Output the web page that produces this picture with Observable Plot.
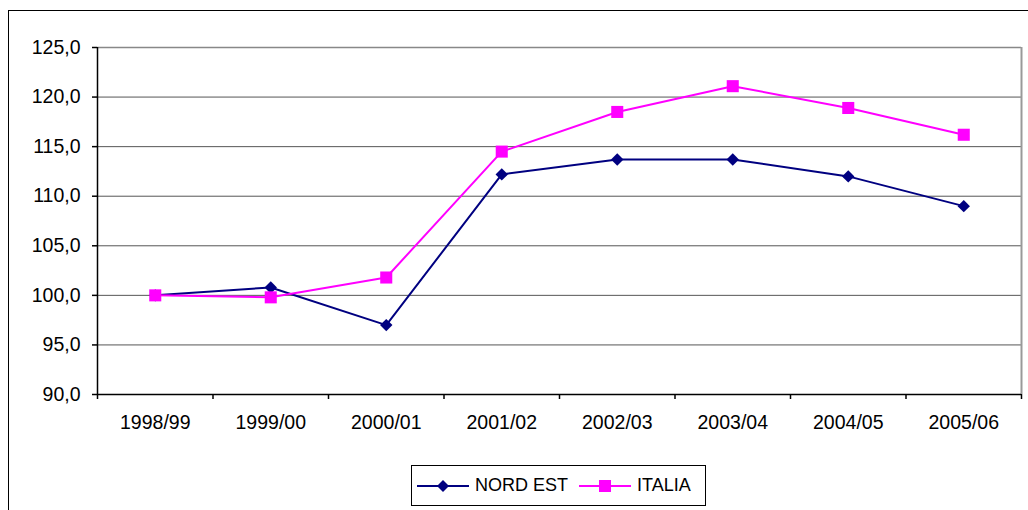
<!DOCTYPE html>
<html>
<head>
<meta charset="utf-8">
<script src="https://cdn.jsdelivr.net/npm/d3@7"></script>
<script src="https://cdn.jsdelivr.net/npm/@observablehq/plot@0.6"></script>
<style>
  html, body { margin: 0; padding: 0; background: #fff; overflow: hidden; width: 1028px; height: 510px; }
  #frame { position: absolute; left: 8px; top: 10px; width: 1100px; height: 600px; border: 1px solid #000; box-sizing: border-box; }
  #chart { position: absolute; left: 0; top: 0; }
  #legend { position: absolute; left: 411px; top: 465px; width: 295px; height: 41px; border: 1px solid #000; box-sizing: border-box; background: #fff;
            font-family: "Liberation Sans", Arial, sans-serif; font-size: 18px; color: #000; }
  .item { position: absolute; top: 0; height: 39px; display: flex; align-items: center; }
  .item svg { display: block; margin-right: 6px; }
</style>
</head>
<body>
<div id="frame"></div>
<div id="chart"></div>
<div id="legend"></div>
<script>
const categories = ["1998/99", "1999/00", "2000/01", "2001/02", "2002/03", "2003/04", "2004/05", "2005/06"];
const nordEst = [100.0, 100.8, 97.0, 112.2, 113.7, 113.7, 112.0, 109.0];
const italia = [100.0, 99.8, 101.8, 114.5, 118.5, 121.1, 118.9, 116.2];
const seriesNames = ["NORD EST", "ITALIA"];
const seriesColors = ["#000080", "#FF00FF"];
const yTicks = [90, 95, 100, 105, 110, 115, 120, 125];

const rowsNE = categories.map((c, i) => ({cat: c, value: nordEst[i], series: seriesNames[0]}));
const rowsIT = categories.map((c, i) => ({cat: c, value: italia[i], series: seriesNames[1]}));

const W = 1028, H = 440, ML = 97, MR = 7, MT = 47, MB = 46;
const step = (W - ML - MR) / categories.length;
const fmt = d => d.toFixed(1).replace(".", ",");

const chart = Plot.plot({
  width: W, height: H,
  marginLeft: ML, marginRight: MR, marginTop: MT, marginBottom: MB,
  style: {fontFamily: "'Liberation Sans', Arial, sans-serif", fontSize: "19.5px", color: "#000", background: "transparent", overflow: "visible"},
  x: {type: "point", domain: categories, padding: 0.5, round: false},
  y: {domain: [90, 125]},
  color: {domain: seriesNames, range: seriesColors},
  marks: [
    Plot.ruleY(yTicks.filter(t => t > 90 && t < 125), {stroke: "#555", strokeWidth: 1}),
    Plot.ruleY([125], {stroke: "#888", strokeWidth: 1.5}),
    Plot.ruleX([categories[categories.length - 1]], {dx: step / 2, y1: 90, y2: 125, stroke: "#999", strokeWidth: 2}),
    Plot.ruleY([90], {stroke: "#000", strokeWidth: 1.5}),
    Plot.ruleX([categories[0]], {dx: -step / 2, y1: 90, y2: 125, stroke: "#000", strokeWidth: 1.5}),
    Plot.ruleX(categories, {dx: -step / 2, y1: 90, y2: 90, insetBottom: -5, stroke: "#000", strokeWidth: 1.5}),
    Plot.ruleX([categories[categories.length - 1]], {dx: step / 2, y1: 90, y2: 90, insetBottom: -5, stroke: "#000", strokeWidth: 1.5}),
    Plot.axisY({ticks: yTicks, tickSize: 5, tickPadding: 12, tickFormat: fmt, label: null, strokeWidth: 1.5, fontSize: 19.5}),
    Plot.axisX({tickSize: 0, tickPadding: 21, label: null, fontSize: 19.5}),
    Plot.line(rowsNE, {x: "cat", y: "value", stroke: "series", strokeWidth: 2}),
    Plot.dot(rowsNE, {x: "cat", y: "value", fill: "series", symbol: "diamond2", r: 5.6, stroke: "none"}),
    Plot.line(rowsIT, {x: "cat", y: "value", stroke: "series", strokeWidth: 2}),
    Plot.dot(rowsIT, {x: "cat", y: "value", fill: "series", symbol: "square", r: 6.8, stroke: "none"})
  ]
});
document.getElementById("chart").appendChild(chart);

// Legend
const legend = document.getElementById("legend");
const legendX = [5, 167];
seriesNames.forEach((name, i) => {
  const item = document.createElement("div");
  item.className = "item";
  item.style.left = legendX[i] + "px";
  const marker = i === 0
    ? `<path d="M26,14 L32,20 L26,26 L20,20 Z" fill="${seriesColors[i]}"/>`
    : `<rect x="20" y="14" width="12" height="12" fill="${seriesColors[i]}"/>`;
  item.innerHTML = `<svg width="52" height="40" viewBox="0 0 52 40"><line x1="0" x2="52" y1="20" y2="20" stroke="${seriesColors[i]}" stroke-width="2"/>${marker}</svg><span>${name}</span>`;
  legend.appendChild(item);
});
</script>
</body>
</html>
